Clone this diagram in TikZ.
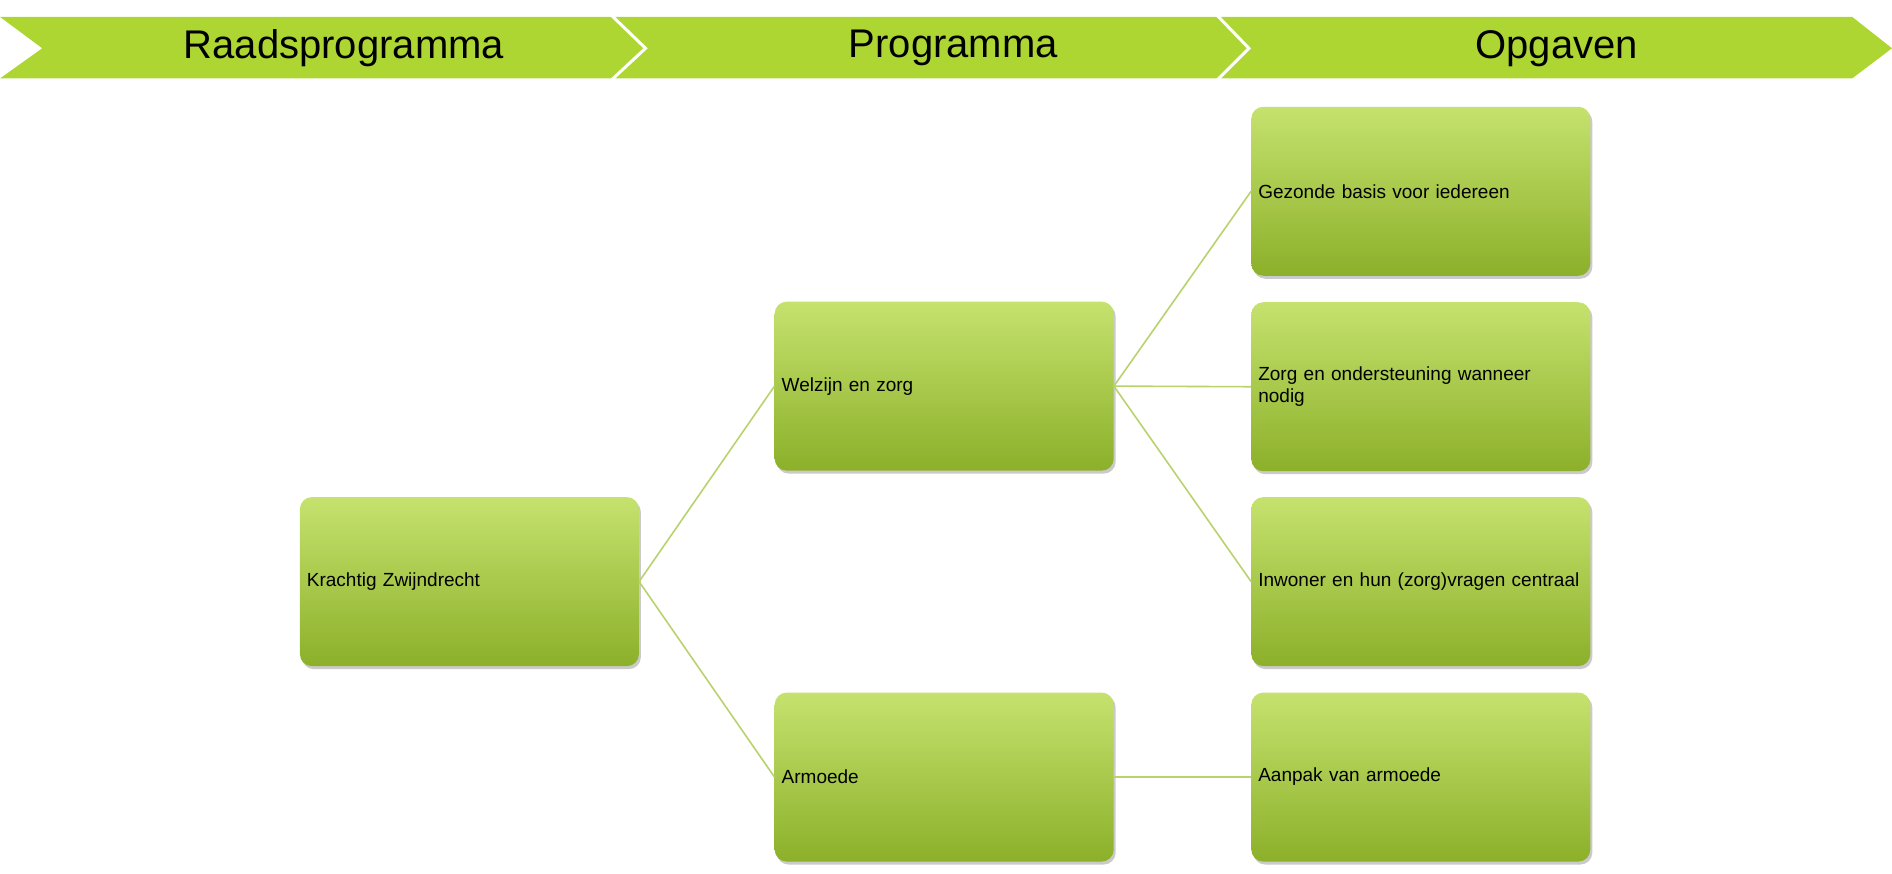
\documentclass[tikz,border=0pt]{standalone}
\usepackage{fontspec}
\setmainfont{Liberation Sans}
\usetikzlibrary{shadows}
\definecolor{band}{HTML}{ADD633}
\definecolor{boxtop}{HTML}{C5E26E}
\definecolor{boxbot}{HTML}{8CB02A}
\definecolor{conn}{HTML}{B8D26E}
\tikzset{
  box/.style={rounded corners=12pt, minimum width=339pt, minimum height=169pt,
    text width=325pt, align=left, inner xsep=5pt, font=\fontsize{19}{22}\selectfont,
    top color=boxtop, bottom color=boxbot, draw=none,
    drop shadow={shadow xshift=2pt, shadow yshift=-3pt, opacity=0.35, fill=black!60}},
  conn/.style={draw=conn, line width=1.6pt},
  hdr/.style={font=\fontsize{40}{44}\selectfont, inner sep=0pt}
}
\begin{document}
\begin{tikzpicture}[x=1.2066pt,y=-1.2066pt]
\useasboundingbox (0,0) rectangle (1568,723.5);
\fill[band] (0,14) -- (1535,14) -- (1568,40) -- (1535,65) -- (0,65) -- (35,40) -- cycle;
\draw[white, line width=3pt] (506,12) -- (535,40) -- (506,67);
\draw[white, line width=3pt] (1008,12) -- (1035,40) -- (1008,67);
\node[hdr] (h1) at (285,40) {Raadsprogramma};
\node[hdr] (h2) at (790,40) {Programma};
\node[hdr] (h3) at (1290,40) {Opgaven};

\node[box] (k) at (389,482) {Krachtig Zwijndrecht};
\node[box] (w) at (782.5,320) {Welzijn en zorg};
\node[box] (a) at (782.5,644) {Armoede};
\node[box] (g) at (1177.5,158.5) {Gezonde basis voor iedereen};
\node[box] (z) at (1177.5,320.5) {Zorg en ondersteuning wanneer nodig};
\node[box] (i) at (1177.5,482) {Inwoner en hun (zorg)vragen centraal};
\node[box] (p) at (1177.5,644) {Aanpak van armoede};

\begin{scope}[on background layer/.style={}]
\end{scope}
\draw[conn] (k.east) -- (w.west);
\draw[conn] (k.east) -- (a.west);
\draw[conn] (w.east) -- (g.west);
\draw[conn] (w.east) -- (z.west);
\draw[conn] (w.east) -- (i.west);
\draw[conn] (a.east) -- (p.west);
\end{tikzpicture}
\end{document}
